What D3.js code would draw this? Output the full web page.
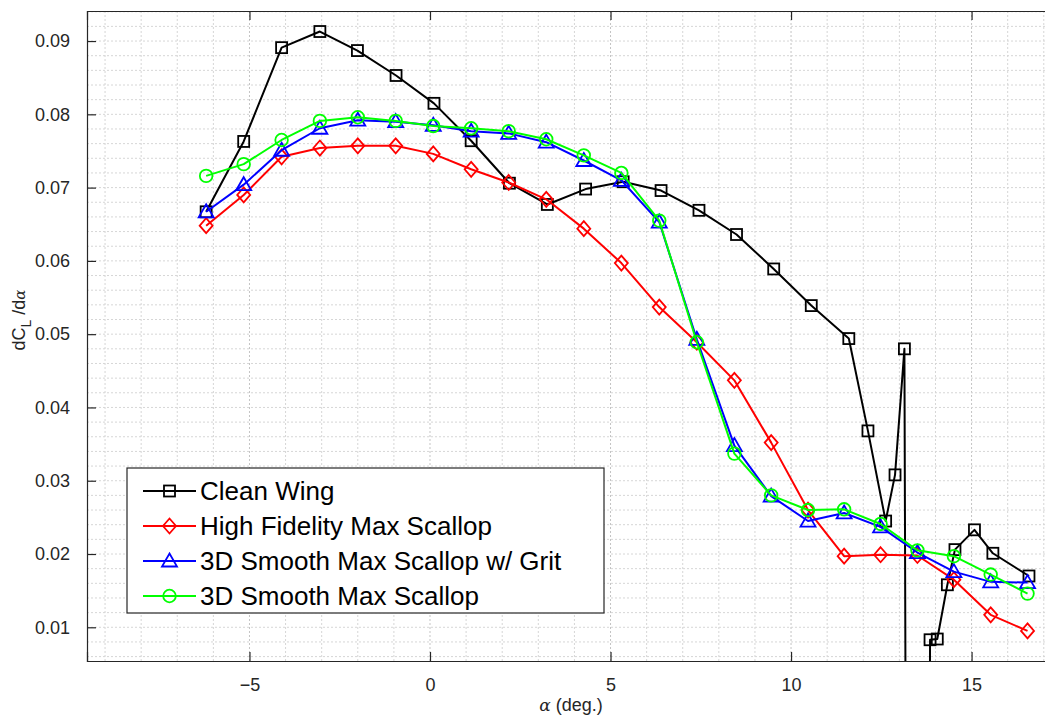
<!DOCTYPE html>
<html><head><meta charset="utf-8">
<script src="https://cdn.jsdelivr.net/npm/d3@7/dist/d3.min.js"></script>
<style>body{margin:0;background:#fff;}svg{display:block;}</style>
</head><body>
<svg id="c" width="1045" height="721"></svg>
<script>
// ---- data ----
const seriesNames = ["Clean Wing","High Fidelity Max Scallop","3D Smooth Max Scallop w/ Grit","3D Smooth Max Scallop"];
const cleanAlpha = [-6.2,-5.16,-4.11,-3.05,-2.01,-0.94,0.11,1.14,2.2,3.25,4.31,5.35,6.4,7.45,8.49,9.52,10.56,11.6,12.13,12.62,12.88,13.14,13.5,13.85,14.05,14.33,14.54,15.08,15.59,16.59];
const cleanVals  = [0.0667,0.0763,0.0891,0.0913,0.0887,0.0853,0.0815,0.0764,0.0706,0.0677,0.0698,0.0708,0.0696,0.0669,0.0636,0.0589,0.0539,0.0494,0.0368,0.0245,0.0308,0.048,-0.5,0.0083,0.0084,0.0158,0.0206,0.0233,0.0201,0.0170];
const scallopAlpha = [-6.2,-5.16,-4.11,-3.05,-2.0,-0.95,0.09,1.14,2.18,3.22,4.26,5.30,6.35,7.39,8.43,9.45,10.47,11.47,12.48,13.5,14.51,15.53,16.55];
const hiFiVals  = [0.0648,0.069,0.0742,0.0754,0.0757,0.0757,0.0746,0.0725,0.0707,0.0684,0.0644,0.0597,0.0537,0.0489,0.0437,0.0352,0.026,0.0197,0.0199,0.0198,0.0165,0.0117,0.0095];
const gritVals  = [0.0667,0.0704,0.0751,0.0781,0.0792,0.079,0.0785,0.0777,0.0774,0.0762,0.0737,0.071,0.0653,0.0493,0.0348,0.0279,0.0245,0.0256,0.0237,0.0202,0.0176,0.0162,0.0161];
const smoothVals= [0.0716,0.0732,0.0765,0.0791,0.0796,0.0791,0.0784,0.0781,0.0777,0.0766,0.0744,0.072,0.0655,0.0489,0.0337,0.028,0.026,0.0261,0.0241,0.0205,0.0197,0.0172,0.0146];
const xTicks = [-5,0,5,10,15];
const yTicks = [0.01,0.02,0.03,0.04,0.05,0.06,0.07,0.08,0.09];

const colors = ["#000000","#ff0000","#0000ff","#00ff00"];
const markers = ["square","diamond","triangle","circle"];
const series = [
  {name:seriesNames[0], xs:cleanAlpha, ys:cleanVals},
  {name:seriesNames[1], xs:scallopAlpha, ys:hiFiVals},
  {name:seriesNames[2], xs:scallopAlpha, ys:gritVals},
  {name:seriesNames[3], xs:scallopAlpha, ys:smoothVals}
];

const svg = d3.select("#c");
const L=87, R=1051, T=11, B=661;
const x = d3.scaleLinear().domain([-9.5,17.2]).range([L,R]);
const y = d3.scaleLinear().domain([0.0054,0.0941]).range([B,T]);

// grid
const g = svg.append("g");
const xMinor = d3.range(-9,18,1);
const yMinor = d3.range(6,95,2).map(v=>v/1000);
g.selectAll(".vx").data(xMinor).join("line")
  .attr("x1",d=>x(d)).attr("x2",d=>x(d)).attr("y1",T).attr("y2",B)
  .attr("stroke",d=>xTicks.includes(d)?"#c4c4c4":"#d6d6d6").attr("stroke-width",1).attr("stroke-dasharray","2,2");
g.selectAll(".hy").data(yMinor).join("line")
  .attr("x1",L).attr("x2",R).attr("y1",d=>y(d)).attr("y2",d=>y(d))
  .attr("stroke","#d6d6d6").attr("stroke-width",1).attr("stroke-dasharray","2,2");

// axes
const tickCol = "#262626";
const xAxisB = d3.axisBottom(x).tickValues(xTicks).tickSize(-9).tickPadding(17).tickFormat(d3.format("d"));
const xAxisT = d3.axisTop(x).tickValues(xTicks).tickSize(-9).tickFormat("");
const yAxisL = d3.axisLeft(y).tickValues(yTicks).tickSize(-9).tickPadding(17).tickFormat(d3.format(".2f"));
function style(sel){
  sel.select(".domain").attr("stroke",tickCol).attr("stroke-width",1.2);
  sel.selectAll(".tick line").attr("stroke",tickCol).attr("stroke-width",1.2);
  sel.selectAll(".tick text").attr("fill",tickCol).attr("font-size","18px").attr("font-family","Liberation Sans, Arial, sans-serif");
}
svg.append("g").attr("transform",`translate(0,${B})`).call(xAxisB).call(style);
svg.append("g").attr("transform",`translate(0,${T})`).call(xAxisT).call(style);
svg.append("g").attr("transform",`translate(${L},0)`).call(yAxisL).call(style);

// clip
svg.append("clipPath").attr("id","clip").append("rect").attr("x",L).attr("y",T).attr("width",R-L).attr("height",B-T);
const plot = svg.append("g").attr("clip-path","url(#clip)");

function drawMarker(sel, type, cx, cy, col){
  if(type==="square"){
    sel.append("rect").attr("x",cx-5.5).attr("y",cy-5.5).attr("width",11).attr("height",11)
      .attr("fill","none").attr("stroke",col).attr("stroke-width",1.8);
  } else if(type==="diamond"){
    sel.append("path").attr("d",`M${cx},${cy-7.5}L${cx+6.5},${cy}L${cx},${cy+7.5}L${cx-6.5},${cy}Z`)
      .attr("fill","none").attr("stroke",col).attr("stroke-width",1.8);
  } else if(type==="triangle"){
    sel.append("path").attr("d",`M${cx},${cy-7.5}L${cx+7.5},${cy+5.5}L${cx-7.5},${cy+5.5}Z`)
      .attr("fill","none").attr("stroke",col).attr("stroke-width",1.8);
  } else {
    sel.append("circle").attr("cx",cx).attr("cy",cy).attr("r",6.3)
      .attr("fill","none").attr("stroke",col).attr("stroke-width",1.8);
  }
}

const line = d3.line().x(d=>x(d[0])).y(d=>y(d[1]));
series.forEach((s,i)=>{
  const pts = s.xs.map((v,k)=>[v,s.ys[k]]);
  const sg = plot.append("g");
  sg.append("path").datum(pts).attr("d",line).attr("fill","none")
    .attr("stroke",colors[i]).attr("stroke-width",2).attr("stroke-linejoin","round");
  pts.forEach(p=>drawMarker(sg, markers[i], x(p[0]), y(p[1]), colors[i]));
});

// legend
const lg = svg.append("g");
const lx=127, ly=468, lw=477, lh=145;
lg.append("rect").attr("x",lx).attr("y",ly).attr("width",lw).attr("height",lh)
  .attr("fill","#fff").attr("stroke","#262626").attr("stroke-width",1.2);
const rowY = [491,526,561,596];
series.forEach((s,i)=>{
  const yy = rowY[i];
  lg.append("line").attr("x1",143).attr("x2",196).attr("y1",yy).attr("y2",yy)
    .attr("stroke",colors[i]).attr("stroke-width",2);
  drawMarker(lg, markers[i], 169.5, yy, colors[i]);
  lg.append("text").attr("x",200).attr("y",yy+9).text(s.name)
    .attr("font-family","Liberation Sans, Arial, sans-serif").attr("font-size","26px").attr("fill","#000");
});

// axis labels
const xl = svg.append("text").attr("x",571).attr("y",711).attr("text-anchor","middle")
  .attr("font-family","Liberation Sans, Arial, sans-serif").attr("font-size","18px").attr("fill",tickCol);
xl.append("tspan").attr("font-family","DejaVu Serif, serif").attr("font-style","italic").attr("font-size","17px").text("α");
xl.append("tspan").text(" (deg.)");

const yl = svg.append("text").attr("transform","translate(25,320) rotate(-90)").attr("text-anchor","middle")
  .attr("font-family","Liberation Sans, Arial, sans-serif").attr("font-size","18px").attr("fill",tickCol);
yl.append("tspan").text("dC");
yl.append("tspan").attr("dy",6).attr("font-size","14px").text("L");
yl.append("tspan").attr("dy",-6).text(" /d");
yl.append("tspan").attr("font-family","DejaVu Serif, serif").attr("font-style","italic").attr("font-size","15px").text("α");
</script>
</body></html>
